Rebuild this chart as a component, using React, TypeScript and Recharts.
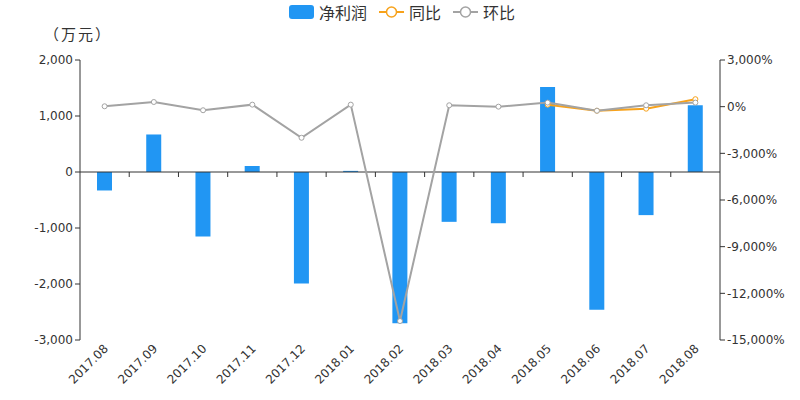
import React from 'react'
import {
  ComposedChart,
  Bar,
  Line,
  XAxis,
  YAxis,
  ReferenceLine,
} from 'recharts'

// months on the x axis
const months = [
  '2017.08', '2017.09', '2017.10', '2017.11', '2017.12', '2018.01', '2018.02',
  '2018.03', '2018.04', '2018.05', '2018.06', '2018.07', '2018.08',
]

// 净利润 (万元)
const netProfit = [-330, 670, -1150, 105, -1990, 20, -2700, -890, -915, 1520, -2460, -770, 1190]

// 同比 (%) - only the last four months have a value
const yoy = [null, null, null, null, null, null, null, null, null, 130, -260, -130, 480]

// 环比 (%)
const mom = [25, 300, -230, 130, -2000, 130, -13780, 90, 0, 260, -260, 90, 260]

const leftTicks = [-3000, -2000, -1000, 0, 1000, 2000]
const rightTicks = [-15000, -12000, -9000, -6000, -3000, 0, 3000]

const data = months.map((m, i) => ({
  month: m,
  netProfit: netProfit[i],
  yoy: yoy[i],
  mom: mom[i],
}))

const BLUE = '#2196f3'
const ORANGE = '#f7a21b'
const GRAY = '#a3a3a3'
const TEXT = '#333'
const FONT = '"DejaVu Sans", "Noto Sans CJK SC", sans-serif'
const CJK = '"Noto Sans CJK SC", sans-serif'

const fmt = (v: number) => v.toLocaleString('en-US')

// rotated month labels under the plot
function MonthTick({ x, y, payload }: any) {
  return (
    <text
      x={x}
      y={y}
      dy={4}
      dx={2}
      textAnchor="end"
      fontSize={12}
      fontFamily={FONT}
      fill={TEXT}
      transform={`rotate(-45, ${x}, ${y})`}
    >
      {payload.value}
    </text>
  )
}

// unit label above the left axis
function UnitLabel({ viewBox }: any) {
  const { x, y, width } = viewBox
  return (
    <text
      x={x + width - 2}
      y={y - 20}
      textAnchor="middle"
      fontSize={15}
      letterSpacing={2}
      fontFamily={CJK}
      fill={TEXT}
    >
      （万元）
    </text>
  )
}

// x axis line sitting on zero, with ticks at category boundaries
function ZeroAxis(props: any) {
  const { x1, y1, x2 } = props
  const n = months.length
  const step = (x2 - x1) / n
  const ticks = []
  for (let i = 1; i < n; i++) {
    const tx = x1 + step * i
    ticks.push(<line key={i} x1={tx} y1={y1} x2={tx} y2={y1 + 5} stroke={TEXT} strokeWidth={1} />)
  }
  return (
    <g>
      <line x1={x1} y1={y1} x2={x2} y2={y1} stroke={TEXT} strokeWidth={1} />
      {ticks}
    </g>
  )
}

function LegendRow() {
  const item = { display: 'flex', alignItems: 'center', marginRight: 12 }
  const label = { fontSize: 16, color: TEXT, marginLeft: 5, fontFamily: CJK }
  const lineIcon = (c: string) => (
    <svg width={25} height={14}>
      <line x1={0} y1={7} x2={25} y2={7} stroke={c} strokeWidth={2} />
      <circle cx={12.5} cy={7} r={5} fill="#fff" stroke={c} strokeWidth={1.5} />
    </svg>
  )
  return (
    <div
      style={{
        position: 'absolute',
        top: 0,
        left: 0,
        width: 800,
        display: 'flex',
        justifyContent: 'center',
        paddingLeft: 8,
      }}
    >
      <div style={item}>
        <div style={{ width: 25, height: 14, background: BLUE, borderRadius: 3 }} />
        <span style={label}>净利润</span>
      </div>
      <div style={item}>
        {lineIcon(ORANGE)}
        <span style={label}>同比</span>
      </div>
      <div style={item}>
        {lineIcon(GRAY)}
        <span style={label}>环比</span>
      </div>
    </div>
  )
}

export default function App() {
  return (
    <div style={{ position: 'absolute', left: 0, top: 0, width: 800, height: 400, background: '#fff' }}>
      <ComposedChart
        width={800}
        height={400}
        data={data}
        margin={{ top: 60, right: 20, bottom: 0, left: 20 }}
      >
        <XAxis
          dataKey="month"
          axisLine={false}
          tickLine={false}
          height={60}
          interval={0}
          tick={<MonthTick />}
        />
        <YAxis
          yAxisId="left"
          width={60}
          domain={[-3000, 2000]}
          ticks={leftTicks}
          tickFormatter={fmt}
          stroke={TEXT}
          tickSize={5}
          tick={{ fontSize: 12, fill: TEXT, fontFamily: FONT }}
          label={<UnitLabel />}
        />
        <YAxis
          yAxisId="right"
          orientation="right"
          width={60}
          domain={[-15000, 3000]}
          ticks={rightTicks}
          tickFormatter={(v: number) => `${fmt(v)}%`}
          stroke={TEXT}
          tickSize={5}
          tick={{ fontSize: 12, fill: TEXT, fontFamily: FONT }}
        />
        <Bar
          yAxisId="left"
          dataKey="netProfit"
          fill={BLUE}
          barSize={15}
          isAnimationActive={false}
        />
        <ReferenceLine yAxisId="left" y={0} shape={<ZeroAxis />} />
        <Line
          yAxisId="right"
          dataKey="yoy"
          stroke={ORANGE}
          strokeWidth={2}
          dot={{ r: 2.5, fill: '#fff', stroke: ORANGE, strokeWidth: 1 }}
          activeDot={false}
          isAnimationActive={false}
        />
        <Line
          yAxisId="right"
          dataKey="mom"
          stroke={GRAY}
          strokeWidth={2}
          dot={{ r: 2.5, fill: '#fff', stroke: GRAY, strokeWidth: 1 }}
          activeDot={false}
          isAnimationActive={false}
        />
      </ComposedChart>
      <LegendRow />
    </div>
  )
}
